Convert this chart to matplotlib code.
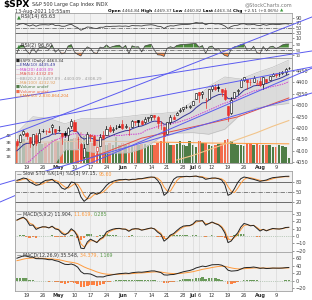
import numpy as np
import pandas as pd
import matplotlib
matplotlib.use('Agg')
import matplotlib.pyplot as plt
from matplotlib.patches import Rectangle

# $SPX daily, 14-Apr-2021 .. 13-Aug-2021 (last bar intraday)
opens = [4141.58, 4139.76, 4174.14, 4179.80, 4159.18, 4128.42, 4170.46, 4138.78, 4185.03, 4188.25,
         4185.14, 4206.14, 4198.10, 4191.98, 4179.04, 4177.06, 4169.14, 4210.34, 4228.29, 4150.34,
         4130.55, 4074.99, 4129.58, 4169.92, 4165.94, 4098.45, 4121.97, 4168.61, 4170.16, 4205.94,
         4191.59, 4201.94, 4210.77, 4216.52, 4206.82, 4191.43, 4206.05, 4229.34, 4233.81, 4232.99,
         4228.56, 4242.90, 4248.31, 4255.28, 4248.87, 4220.37, 4204.78, 4173.40, 4224.61, 4249.27,
         4256.97, 4274.45, 4284.90, 4293.21, 4290.65, 4300.73, 4326.60, 4356.46, 4351.01, 4321.07,
         4329.38, 4372.41, 4381.07, 4380.11, 4369.02, 4367.43, 4296.40, 4265.11, 4331.13, 4361.27,
         4381.20, 4409.58, 4416.38, 4402.95, 4403.59, 4395.12, 4406.86, 4392.74, 4415.95, 4408.86,
         4429.07, 4437.77, 4435.79, 4442.18, 4446.08, 4464.84]
highs = [4151.69, 4173.49, 4191.31, 4180.81, 4159.18, 4175.02, 4179.57, 4194.17, 4194.19, 4193.35,
         4201.53, 4218.78, 4198.10, 4209.39, 4179.04, 4187.72, 4202.70, 4238.04, 4236.39, 4162.04,
         4134.73, 4131.58, 4183.13, 4171.92, 4169.15, 4116.93, 4172.80, 4188.72, 4209.52, 4213.42,
         4202.61, 4213.38, 4218.36, 4234.12, 4217.37, 4204.39, 4233.45, 4232.34, 4236.74, 4237.09,
         4249.74, 4248.38, 4255.59, 4257.16, 4251.89, 4232.29, 4204.78, 4226.24, 4255.84, 4256.60,
         4271.28, 4286.12, 4292.14, 4300.52, 4302.43, 4320.66, 4355.43, 4356.46, 4361.88, 4330.88,
         4371.60, 4386.68, 4392.37, 4393.68, 4369.02, 4375.09, 4296.40, 4336.84, 4359.70, 4369.87,
         4415.18, 4422.73, 4416.38, 4415.47, 4429.97, 4412.25, 4422.18, 4423.79, 4416.17, 4429.76,
         4440.82, 4439.39, 4445.21, 4449.44, 4461.77, 4469.37]
lows = [4120.87, 4139.76, 4170.75, 4150.47, 4118.38, 4126.35, 4123.69, 4138.78, 4182.36, 4176.22,
        4181.78, 4176.81, 4174.85, 4188.03, 4128.59, 4160.94, 4147.33, 4201.64, 4188.13, 4111.53,
        4056.88, 4074.99, 4129.58, 4142.69, 4125.99, 4061.41, 4121.97, 4151.72, 4170.16, 4182.52,
        4184.11, 4197.78, 4203.57, 4197.59, 4198.27, 4167.93, 4206.05, 4215.66, 4208.41, 4218.74,
        4220.34, 4232.25, 4234.07, 4238.35, 4202.45, 4196.05, 4164.40, 4173.40, 4217.27, 4241.43,
        4256.97, 4271.16, 4274.67, 4286.96, 4287.96, 4300.73, 4326.60, 4314.37, 4329.79, 4289.37,
        4329.38, 4364.03, 4366.92, 4362.36, 4340.70, 4322.53, 4233.13, 4262.05, 4331.13, 4350.06,
        4381.20, 4405.45, 4372.51, 4387.01, 4403.59, 4389.65, 4384.81, 4373.00, 4400.23, 4408.86,
        4429.07, 4424.74, 4430.03, 4436.42, 4435.96, 4460.82]
closes = [4124.66, 4170.42, 4185.47, 4163.26, 4134.94, 4173.42, 4134.98, 4180.17, 4187.62, 4186.72,
          4183.18, 4211.47, 4181.17, 4192.66, 4164.66, 4167.59, 4201.62, 4232.60, 4188.43, 4152.10,
          4063.04, 4112.50, 4173.85, 4163.29, 4127.83, 4115.68, 4159.12, 4155.86, 4197.05, 4188.13,
          4195.99, 4200.88, 4204.11, 4202.04, 4208.12, 4192.85, 4229.89, 4226.52, 4227.26, 4219.55,
          4239.18, 4247.44, 4255.15, 4246.59, 4223.70, 4221.86, 4166.45, 4224.79, 4246.44, 4241.84,
          4266.49, 4280.70, 4290.61, 4291.80, 4297.50, 4319.94, 4352.34, 4343.54, 4358.13, 4320.82,
          4369.55, 4384.63, 4369.21, 4374.30, 4360.03, 4327.16, 4258.49, 4323.06, 4358.69, 4367.48,
          4411.79, 4422.30, 4401.46, 4400.64, 4419.15, 4395.26, 4387.16, 4423.15, 4402.66, 4429.10,
          4436.52, 4432.35, 4436.75, 4447.70, 4460.83, 4463.34]
prior_close = 4141.59
volume = [3.0, 3.2, 3.6, 3.1, 3.3, 3.0, 3.4, 3.0, 2.8, 2.9,
          3.1, 3.4, 3.6, 3.2, 4.0, 3.5, 3.4, 3.5, 3.7, 4.3,
          4.6, 4.0, 3.4, 2.9, 3.0, 3.6, 3.3, 3.5, 2.7, 2.9,
          2.7, 3.9, 2.6, 3.0, 2.7, 2.9, 2.6, 2.7, 2.6, 2.8,
          2.8, 2.6, 2.6, 2.7, 3.0, 3.3, 5.4, 3.0, 2.7, 2.7,
          2.8, 3.3, 2.6, 2.5, 3.3, 2.7, 2.4, 3.2, 2.9, 3.0,
          2.6, 2.5, 2.6, 2.8, 2.8, 3.4, 3.6, 3.2, 2.8, 2.6,
          2.6, 2.5, 2.9, 2.9, 2.6, 2.8, 2.7, 2.7, 2.6, 2.6,
          2.4, 2.3, 2.6, 2.5, 2.4, 0.8]
vol_ticks = [1, 2, 3, 4]
vol_tick_labels = ['1B', '2B', '3B', '4B']

ema10 = [4100.4, 4113.1, 4126.3, 4133.0, 4133.4, 4140.7, 4139.7, 4147.1, 4154.4, 4160.3,
         4164.4, 4173.0, 4174.5, 4177.8, 4175.4, 4174.0, 4179.0, 4188.7, 4188.7, 4182.0,
         4160.4, 4151.7, 4155.7, 4157.1, 4151.8, 4145.2, 4147.7, 4149.2, 4157.9, 4163.4,
         4169.3, 4175.0, 4180.3, 4184.3, 4188.6, 4189.4, 4196.8, 4202.2, 4206.8, 4209.1,
         4214.6, 4220.6, 4226.9, 4230.5, 4229.3, 4227.9, 4216.7, 4218.2, 4223.3, 4226.7,
         4233.9, 4242.4, 4251.2, 4258.6, 4265.7, 4275.6, 4289.6, 4299.4, 4310.1, 4312.0,
         4322.4, 4333.7, 4340.2, 4346.4, 4348.9, 4344.9, 4329.2, 4328.1, 4333.7, 4339.8,
         4352.9, 4365.5, 4372.0, 4377.2, 4384.8, 4386.7, 4386.8, 4393.4, 4395.1, 4401.3,
         4407.7, 4412.2, 4416.7, 4422.3, 4429.3, 4435.5]
ma20 = [4010.0, 4019.8, 4033.3, 4045.8, 4055.6, 4068.7, 4081.0, 4094.5, 4105.2, 4116.0,
        4127.2, 4139.1, 4147.2, 4152.9, 4157.5, 4161.9, 4167.1, 4172.3, 4175.3, 4175.9,
        4172.8, 4169.9, 4169.3, 4169.3, 4169.0, 4166.1, 4167.3, 4166.1, 4166.5, 4166.6,
        4167.2, 4166.7, 4167.9, 4168.3, 4170.5, 4171.8, 4173.2, 4172.9, 4174.8, 4178.2,
        4187.0, 4193.7, 4197.8, 4202.0, 4206.8, 4212.1, 4212.4, 4215.9, 4218.4, 4221.0,
        4224.6, 4228.6, 4232.9, 4237.4, 4241.8, 4248.2, 4254.3, 4260.2, 4266.7, 4271.8,
        4278.3, 4285.2, 4290.9, 4297.2, 4304.1, 4309.3, 4313.9, 4318.8, 4324.5, 4330.7,
        4338.0, 4345.1, 4350.6, 4356.1, 4362.2, 4365.9, 4367.7, 4371.6, 4373.9, 4379.3,
        4382.6, 4385.0, 4388.4, 4392.1, 4397.1, 4403.1]
bb_idx = [0, 5, 10, 15, 20, 25, 30, 35, 40, 45, 50, 55, 60, 65, 70, 75, 80, 85]
bb_upper = [4180, 4250, 4242, 4219, 4241, 4242, 4244, 4252, 4260, 4264, 4271, 4317, 4383, 4424, 4415, 4443, 4467, 4498]
bb_lower = [3840, 3888, 4012, 4105, 4105, 4090, 4090, 4092, 4114, 4160, 4178, 4180, 4173, 4195, 4261, 4289, 4299, 4308]
ma50_idx = [0, 9, 19, 29, 39, 49, 59, 69, 79, 85]
ma50 = [3955, 3985, 4051, 4101, 4156, 4187, 4217, 4249, 4301, 4332]
ma100_idx = [50, 55, 60, 65, 70, 75, 80, 85]
ma100 = [4060, 4080, 4105, 4130, 4155, 4180, 4208, 4233]
vema_idx = [0, 10, 20, 30, 40, 50, 60, 70, 80, 85]
vol_ema = [3.05, 3.1, 3.2, 3.2, 3.1, 3.05, 2.95, 2.9, 2.85, 2.83]

rsi14 = [60, 66, 68, 63, 58, 63, 57, 62, 63, 63,
         62, 66, 60, 61, 57, 57, 62, 65, 57, 51,
         41, 47, 54, 53, 49, 48, 53, 53, 57, 56,
         57, 57, 58, 57, 58, 56, 60, 59, 59, 58,
         61, 62, 63, 61, 57, 56, 48, 56, 59, 58,
         61, 63, 64, 64, 65, 68, 72, 70, 71, 63,
         68, 69, 66, 67, 64, 58, 48, 56, 60, 61,
         66, 67, 63, 63, 65, 61, 60, 64, 61, 64,
         65, 64, 64, 66, 67, 65.6]
rsi2 = [28, 84, 90, 45, 20, 68, 31, 70, 74, 71,
        55, 90, 34, 55, 21, 30, 81, 92, 35, 17,
        5, 47, 75, 63, 31, 23, 73, 67, 90, 69,
        78, 84, 88, 66, 86, 22, 83, 74, 76, 36,
        82, 89, 94, 48, 14, 12, 2, 65, 76, 67,
        86, 91, 94, 95, 97, 99, 99.8, 72, 85, 25,
        74, 81, 52, 61, 29, 8.5, 2, 59, 75, 80,
        92, 94, 50, 48, 80, 31, 22, 78, 44, 74,
        80, 63, 74, 90, 96, 96.6]
sto_k = [85, 88, 92, 90, 80, 75, 70, 72, 80, 85,
         86, 88, 80, 75, 62, 58, 65, 80, 78, 62,
         35, 22, 30, 45, 48, 43, 48, 58, 70, 78,
         82, 85, 87, 87, 88, 86, 88, 88, 90, 90,
         92, 94, 95, 94, 85, 70, 40, 48, 70, 88,
         95, 96, 96, 97, 96, 97, 98, 95, 94, 88,
         90, 92, 92, 90, 86, 72, 40, 45, 60, 78,
         90, 95, 93, 90, 88, 85, 82, 84, 86, 90,
         93, 94, 95, 96, 97, 97.2]
sto_d = [82.3, 85, 88.3, 90, 87.3, 81.7, 75, 72.3, 74, 79,
         83.7, 86.3, 84.7, 81, 72.3, 65, 61.7, 67.7, 74.3, 73.3,
         58.3, 39.7, 29, 32.3, 41, 45.3, 46.3, 49.7, 58.7, 68.7,
         76.7, 81.7, 84.7, 86.3, 87.3, 87, 87.3, 87.3, 88.7, 89.3,
         90.7, 92, 93.7, 94.3, 91.3, 83, 65, 52.7, 52.7, 68.7,
         84.3, 93, 95.7, 96.3, 96.3, 96.7, 97, 96.7, 95.7, 92.3,
         90.7, 90, 91.3, 91.3, 89.3, 82.7, 66, 52.3, 48.3, 61,
         76, 87.7, 92.7, 92.7, 90.3, 87.7, 85, 83.7, 84, 86.7,
         89.7, 92.3, 94, 95, 96, 95.6]
macd_fast = [21.7, 24.0, 25.7, 21.9, 14.6, 14.9, 9.0, 11.2, 12.6, 12.4,
             11.0, 13.4, 9.7, 8.6, 3.7, 1.3, 4.4, 9.9, 6.3, -0.9,
             -16.6, -17.2, -8.2, -4.3, -6.6, -9.0, -3.9, -1.4, 5.6, 7.7,
             9.3, 10.2, 10.4, 9.5, 9.2, 6.4, 9.4, 10.0, 9.7, 7.9,
             9.0, 10.1, 11.0, 9.6, 5.2, 2.2, -7.0, -3.6, 1.4, 3.3,
             7.4, 11.0, 13.5, 14.1, 14.2, 16.3, 20.7, 20.5, 21.0, 14.8,
             17.0, 19.1, 16.9, 15.3, 11.5, 4.3, -9.0, -6.8, -0.5, 4.1,
             12.2, 17.1, 15.8, 13.9, 14.5, 10.6, 6.8, 9.1, 7.0, 8.9,
             10.3, 9.8, 9.5, 10.2, 11.6, 11.9]
sig_fast = [21.5, 23.2, 24.9, 22.9, 17.4, 15.7, 11.2, 11.2, 12.1, 12.3,
            11.4, 12.7, 10.7, 9.3, 5.6, 2.7, 3.8, 7.9, 6.8, 1.7,
            -10.5, -15.0, -10.5, -6.4, -6.5, -8.2, -5.3, -2.7, 2.8, 6.1,
            8.2, 9.5, 10.1, 9.7, 9.4, 7.4, 8.7, 9.6, 9.7, 8.5,
            8.8, 9.7, 10.6, 9.9, 6.8, 3.7, -3.4, -3.5, -0.2, 2.1,
            5.6, 9.2, 12.1, 13.4, 13.9, 15.5, 19.0, 20.0, 20.7, 16.8,
            16.9, 18.4, 17.4, 16.0, 13.0, 7.2, -3.6, -5.7, -2.2, 2.0,
            8.8, 14.3, 15.3, 14.4, 14.5, 11.9, 8.5, 8.9, 7.6, 8.5,
            9.7, 9.8, 9.6, 10.0, 11.1, 11.6]
hist_fast = [0.2, 0.8, 0.8, -1.0, -2.8, -0.8, -2.2, 0.0, 0.5, 0.1,
             -0.4, 0.7, -1.0, -0.7, -1.9, -1.4, 0.6, 2.0, -0.5, -2.6,
             -6.1, -2.2, 2.3, 2.1, -0.1, -0.8, 1.4, 1.3, 2.8, 1.6,
             1.1, 0.7, 0.3, -0.2, -0.2, -1.0, 0.7, 0.4, 0.0, -0.6,
             0.2, 0.4, 0.4, -0.3, -1.6, -1.5, -3.6, -0.1, 1.6, 1.2,
             1.8, 1.8, 1.4, 0.7, 0.3, 0.8, 1.7, 0.5, 0.3, -2.0,
             0.1, 0.7, -0.5, -0.7, -1.5, -2.9, -5.4, -1.1, 1.7, 2.1,
             3.4, 2.8, 0.5, -0.5, 0.0, -1.3, -1.7, 0.2, -0.6, 0.4,
             0.6, 0.0, -0.1, 0.2, 0.5, 0.3]
macd_slow = [60.3, 63.5, 66.5, 66.3, 63.2, 63.1, 59.2, 59.0, 58.9, 58.0,
             56.3, 56.6, 53.8, 51.9, 47.7, 44.0, 43.3, 44.8, 41.9, 36.3,
             24.4, 18.7, 18.9, 18.0, 14.3, 10.2, 10.4, 10.1, 13.1, 14.5,
             16.1, 17.6, 18.9, 19.5, 20.3, 19.4, 21.4, 22.4, 23.1, 22.7,
             23.7, 24.9, 26.2, 26.2, 24.0, 21.9, 15.6, 15.1, 16.3, 16.7,
             18.8, 21.3, 23.9, 25.7, 27.3, 30.0, 34.3, 36.6, 39.2, 37.8,
             40.2, 42.7, 43.0, 43.2, 41.7, 37.4, 28.2, 25.8, 26.4, 27.3,
             31.2, 34.7, 35.5, 35.6, 36.7, 35.3, 33.2, 34.0, 32.6, 33.1,
             33.9, 33.7, 33.6, 34.0, 34.9, 35.5]
sig_slow = [53.7, 55.7, 57.9, 59.6, 60.3, 60.9, 60.6, 60.3, 60.0, 59.6,
            58.9, 58.4, 57.5, 56.4, 54.7, 52.6, 50.7, 49.5, 48.0, 45.7,
            41.4, 36.9, 33.3, 30.2, 27.0, 23.6, 21.0, 18.8, 17.7, 17.1,
            16.9, 17.0, 17.4, 17.8, 18.3, 18.5, 19.1, 19.8, 20.5, 20.9,
            21.5, 22.2, 23.0, 23.6, 23.7, 23.3, 21.8, 20.5, 19.7, 19.1,
            19.0, 19.5, 20.4, 21.5, 22.7, 24.2, 26.2, 28.3, 30.5, 32.0,
            33.6, 35.4, 36.9, 38.2, 38.9, 38.6, 36.5, 34.4, 32.8, 31.7,
            31.6, 32.2, 32.9, 33.4, 34.1, 34.3, 34.1, 34.1, 33.8, 33.7,
            33.7, 33.7, 33.7, 33.8, 34.0, 34.4]
hist_slow = [6.6, 7.8, 8.6, 6.7, 2.9, 2.2, -1.4, -1.3, -1.1, -1.6,
             -2.6, -1.8, -3.7, -4.5, -7.0, -8.6, -7.4, -4.7, -6.1, -9.4,
             -17.0, -18.2, -14.4, -12.2, -12.7, -13.4, -10.6, -8.7, -4.6, -2.6,
             -0.8, 0.6, 1.5, 1.7, 2.0, 0.9, 2.3, 2.6, 2.6, 1.8,
             2.2, 2.7, 3.2, 2.6, 0.3, -1.4, -6.2, -5.4, -3.4, -2.4,
             -0.2, 1.8, 3.5, 4.2, 4.6, 5.8, 8.1, 8.3, 8.7, 5.8,
             6.6, 7.3, 6.1, 5.0, 2.8, -1.2, -8.3, -8.6, -6.4, -4.4,
             -0.4, 2.5, 2.6, 2.2, 2.6, 1.0, -0.9, -0.1, -1.2, -0.6,
             0.2, 0.0, -0.1, 0.2, 0.9, 1.2]

# hand-drawn trend lines: (day index, price) pairs
trend_lines = [((-5.3, 3876), (92.3, 4463)),
               ((-5.3, 4152), (92.3, 4687)),
               ((-5.3, 4323), (92.3, 4538)),
               ((-5.3, 4205), (92.3, 4468)),
               ((-5.3, 3953), (92.3, 4354))]

dates = pd.bdate_range('2021-04-14', '2021-08-13')
dates = dates[~dates.isin(pd.to_datetime(['2021-05-31', '2021-07-05']))]
x = np.arange(len(dates))

ticks, labels = [], []
for i in range(1, len(dates)):
    d, p = dates[i], dates[i - 1]
    if d.month != p.month:
        ticks.append(i); labels.append(d.strftime('%b'))
    elif d.weekday() < p.weekday():
        ticks.append(i); labels.append(str(d.day))

BG = '#f1f1f1'
GRID = '#d9d9d9'
UP_VOL = '#4f7d46'
DN_VOL = '#f26b4b'
ORANGE = '#ff9a3c'
TL = '#5b5bf0'

plt.rcParams['font.family'] = 'DejaVu Sans'
fig = plt.figure(figsize=(3.12, 3.0), dpi=100)
fig.patch.set_facecolor('white')


def panel(top, bottom):
    return fig.add_axes([15 / 312, 1 - bottom / 300, 277 / 312, (bottom - top) / 300])


def style(ax, ylim, yticks, show_dates=False, lsize=3.6):
    ax.set_xlim(-0.6, 86)
    ax.set_ylim(*ylim)
    ax.set_yticks(yticks)
    ax.yaxis.tick_right()
    ax.tick_params(axis='y', labelsize=lsize, length=1.5, width=0.4, pad=1, colors='#444444')
    ax.set_xticks(ticks)
    ax.grid(axis='x', color=GRID, lw=0.5)
    if show_dates:
        ax.set_xticklabels(labels)
        ax.tick_params(axis='x', labelsize=3.6, length=0, pad=1.5, colors='#333333')
        for t in ax.get_xticklabels():
            if not t.get_text().isdigit():
                t.set_fontweight('bold')
    else:
        ax.tick_params(axis='x', length=0, labelbottom=False)
    for s in ax.spines.values():
        s.set_color('#a0a0a0')
        s.set_linewidth(0.6)


def ref_lines(ax, solid, dashed):
    for v in solid:
        ax.axhline(v, color='#555555', lw=0.6)
    for v in dashed:
        ax.axhline(v, color='#555555', lw=0.5, ls='-.')


renderer = fig.canvas.get_renderer()


def chain(xp, yp, parts, size):
    for s, c, w in parts:
        t = fig.text(xp / 312, 1 - yp / 300, s, color=c, fontsize=size, fontweight=w,
                     ha='left', va='center')
        xp = t.get_window_extent(renderer).x1
    return xp


# ---- RSI(14)
ax1 = panel(13, 42)
ax1.set_facecolor(BG)
style(ax1, (-6, 110), [10, 30, 50, 70, 90])
ref_lines(ax1, [70, 30], [50])
ax1.plot(x, rsi14, color='#404040', lw=0.6)

# ---- RSI(2)
ax2 = panel(42, 58)
ax2.set_facecolor(BG)
style(ax2, (-10, 112), [10, 50, 90], lsize=3.0)
ref_lines(ax2, [70, 30], [50])
r2 = np.array(rsi2)
ax2.fill_between(x, r2, 70, where=r2 > 70, interpolate=True, color='#4a8a3a', lw=0)
ax2.fill_between(x, r2, 30, where=r2 < 30, interpolate=True, color='#ff8a45', lw=0)
ax2.plot(x, rsi2, color='#404040', lw=0.5)

# ---- price + volume
axv = panel(58, 163)
axp = fig.add_axes(axv.get_position(), sharex=axv)
axv.set_facecolor(BG)
axp.patch.set_visible(False)
style(axv, (0, 15.5), vol_ticks)
axv.yaxis.tick_left()
axv.set_yticklabels(vol_tick_labels)
axv.tick_params(axis='y', left=False, right=False, labelleft=True, labelright=False,
                labelsize=3.2, pad=1)
style(axp, (4047, 4507), list(range(4050, 4500, 50)), show_dates=True)
axp.grid(axis='x', visible=False)
prev = [prior_close] + closes[:-1]
vcol = [UP_VOL if c >= p else DN_VOL for c, p in zip(closes, prev)]
axv.bar(x, volume, width=0.8, color=vcol, lw=0)
axv.plot(vema_idx, vol_ema, color=ORANGE, lw=0.7)

axp.fill_between(bb_idx, bb_lower, bb_upper, color='#d4d4d4', alpha=0.75, lw=0)
axp.plot(bb_idx, bb_upper, color='#b8b8b8', lw=0.4)
axp.plot(bb_idx, bb_lower, color='#b8b8b8', lw=0.4)
axp.plot(ma100_idx, ma100, color='#f2c48a', lw=0.8)
axp.plot(ma50_idx, ma50, color='#e0504a', lw=0.7)
axp.plot(x, ma20, color='#d040d0', lw=0.7, ls=(0, (1.5, 1)))
axp.plot(x, ema10, color='#35359a', lw=0.7)

for i in x:
    o, h, l, c = opens[i], highs[i], lows[i], closes[i]
    col = 'black' if c >= prev[i] else '#e8302a'
    axp.plot([i, i], [l, h], color=col, lw=0.5, zorder=3)
    face = 'white' if c >= o else col
    axp.add_patch(Rectangle((i - 0.32, min(o, c)), 0.64, max(abs(c - o), 0.6),
                            facecolor=face, edgecolor=col, lw=0.4, zorder=4))

for (x0, y0), (x1, y1) in trend_lines:
    axp.plot([x0, x1], [y0, y1], color=TL, lw=0.7, clip_on=False, zorder=6)

# ---- Slow STO
ax3 = panel(171, 211)
ax3.set_facecolor(BG)
style(ax3, (-7, 113), [20, 50, 80])
ref_lines(ax3, [80, 20], [50])
ax3.plot(x, sto_d, color=ORANGE, lw=0.7)
ax3.plot(x, sto_k, color='#222222', lw=0.7)

# ---- MACD(5,9,2)
ax4 = panel(211, 252)
ax4.set_facecolor(BG)
style(ax4, (-21.8, 34.1), [-20, -10, 0, 10, 20, 30])
hf = np.array(hist_fast)
ax4.bar(x, hf, width=0.8, color=np.where(hf >= 0, '#6a9a5a', '#ff8040'), lw=0)
ax4.axhline(0, color='#8aa88a', lw=0.5, ls=':')
ax4.plot(x, sig_fast, color=ORANGE, lw=0.7)
ax4.plot(x, macd_fast, color='#222222', lw=0.7)

# ---- MACD(12,26,9)
ax5 = panel(252, 291)
ax5.set_facecolor(BG)
style(ax5, (-27.6, 77), [-20, 0, 20, 40, 60], show_dates=True)
hs = np.array(hist_slow)
ax5.bar(x, hs, width=0.8, color=np.where(hs >= 0, '#6a9a5a', '#ff8040'), lw=0)
ax5.axhline(0, color='#8aa88a', lw=0.5, ls=':')
ax5.plot(x, sig_slow, color=ORANGE, lw=0.7)
ax5.plot(x, macd_slow, color='#222222', lw=0.7)

# ---- header text
chain(3, 5, [('$SPX', 'black', 'bold')], 6.5)
chain(32, 4.5, [('S&P 500 Large Cap Index INDX', '#333333', 'normal')], 3.5)
fig.text(292 / 312, 1 - 4.5 / 300, '@StockCharts.com', color='#777777', fontsize=3.6,
         ha='right', va='center')
chain(15, 11, [('13-Aug-2021 10:55am', '#333333', 'normal')], 3.5)
chain(108, 11, [('Open ', 'black', 'bold'), ('4464.84 ', '#333333', 'normal'),
                ('High ', 'black', 'bold'), ('4469.37 ', '#333333', 'normal'),
                ('Low ', 'black', 'bold'), ('4460.82 ', '#333333', 'normal'),
                ('Last ', 'black', 'bold'), ('4463.34 ', '#333333', 'normal'),
                ('Chg ', 'black', 'bold'), ('+2.51 (+0.06%) ', '#333333', 'normal'),
                ('\u25b2', '#3a9a3a', 'normal')], 3.05)

# ---- panel labels
chain(17, 16.5, [('\u25b2', '#3a8a3a', 'normal'), ('RSI(14) 65.63', '#333333', 'normal')], 3.6)
chain(17, 45.5, [('\u25b2', '#3a8a3a', 'normal'), ('RSI(2) 96.60', '#333333', 'normal')], 3.6)
legend = [('\u25a0', '#222222', '$SPX (Daily) 4463.34', '#333333'),
          ('\u2014', '#35359a', 'EMA(10) 4435.49', '#35359a'),
          ('\u2014', '#d040d0', 'MA(20) 4403.09', '#d040d0'),
          ('\u2014', '#e0504a', 'MA(50) 4332.09', '#e0504a'),
          ('\u2014', '#aaaaaa', 'BB(20,2.0) 4497.89 - 4403.09 - 4308.29', '#9a9a9a'),
          ('\u2014', '#e8b070', 'MA(100) 4232.92', '#e0a060'),
          ('\u25a0', UP_VOL, 'Volume undef', UP_VOL),
          ('\u25a0', DN_VOL, 'Volume undef', DN_VOL),
          ('\u2014', ORANGE, 'EMA(50) 2,830,864,204', '#f08030')]
for k, (sym, sc, txt, tc) in enumerate(legend):
    chain(16, 61 + 4.4 * k, [(sym, sc, 'normal'), (txt, tc, 'normal')], 3.0)
chain(17, 174, [('\u2014 ', '#222222', 'normal'), ('Slow STO %K(14) %D(3) 97.15, ', '#333333', 'normal'),
                ('95.60', ORANGE, 'normal')], 3.4)
chain(17, 214.5, [('\u2014 ', '#222222', 'normal'), ('MACD(5,9,2) 11.904, ', '#333333', 'normal'),
                  ('11.619, ', ORANGE, 'normal'), ('0.285', '#5a9a4a', 'normal')], 3.4)
chain(17, 255.5, [('\u2014 ', '#222222', 'normal'), ('MACD(12,26,9) 35.548, ', '#333333', 'normal'),
                  ('34.379, ', ORANGE, 'normal'), ('1.169', '#5a9a4a', 'normal')], 3.4)

fig.savefig('out.png', dpi=100)
